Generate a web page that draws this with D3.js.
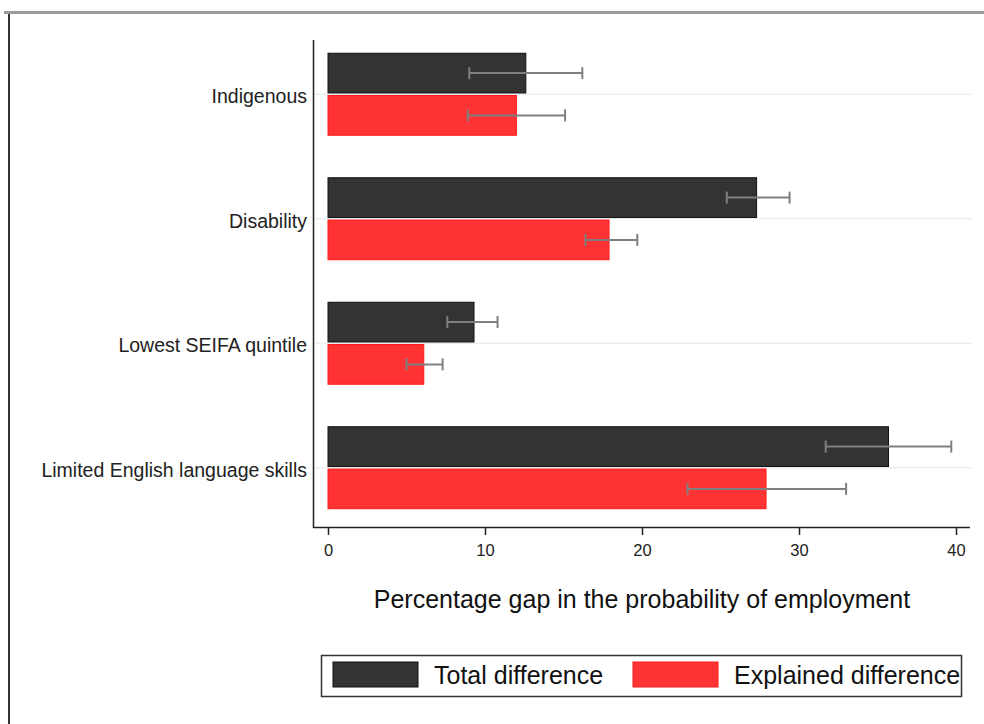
<!DOCTYPE html>
<html>
<head>
<meta charset="utf-8">
<script src="https://cdn.jsdelivr.net/npm/d3@7"></script>
<style>
  html, body { margin: 0; padding: 0; background: #fff; }
  svg { display: block; font-family: "Liberation Sans", Arial, sans-serif; }
</style>
</head>
<body>
<svg id="chart" width="984" height="724"></svg>
<script>
// Employment gap by group: total vs explained difference (percentage points)
const categories = ["Indigenous", "Disability", "Lowest SEIFA quintile", "Limited English language skills"];
const seriesNames = ["Total difference", "Explained difference"];
const totalDiff = [12.6, 27.3, 9.3, 35.7];
const totalLow = [9.0, 25.4, 7.6, 31.7];
const totalHigh = [16.2, 29.4, 10.8, 39.7];
const explainedDiff = [12.0, 17.9, 6.1, 27.9];
const explainedLow = [8.9, 16.4, 5.0, 22.9];
const explainedHigh = [15.1, 19.7, 7.3, 33.0];
const xTicks = [0, 10, 20, 30, 40];
const xTitle = "Percentage gap in the probability of employment";

const fills = ["#333333", "#ff3333"];
const strokes = ["#111111", "#ff1a1a"];

const svg = d3.select("#chart");

// Outer frame lines
svg.append("line").attr("x1", 4).attr("x2", 984).attr("y1", 12.5).attr("y2", 12.5)
  .attr("stroke", "#9a9a9a").attr("stroke-width", 3);
svg.append("line").attr("x1", 9).attr("x2", 9).attr("y1", 14).attr("y2", 724)
  .attr("stroke", "#333").attr("stroke-width", 2);

const x = d3.scaleLinear().domain([0, 40]).range([328, 956]);
const y = d3.scaleBand().domain(categories).range([32, 530]);
const inner = d3.scaleBand().domain(seriesNames).range([-41, 41]).paddingInner(0.06);

// Gridlines at category centres
svg.append("g").selectAll("line").data(categories).join("line")
  .attr("x1", 313).attr("x2", 972)
  .attr("y1", d => y(d) + y.bandwidth() / 2)
  .attr("y2", d => y(d) + y.bandwidth() / 2)
  .attr("stroke", "#dde8ee").attr("stroke-width", 1.2);

const rows = categories.map((c, i) => ({
  cat: c,
  vals: [
    { s: seriesNames[0], v: totalDiff[i], lo: totalLow[i], hi: totalHigh[i], k: 0 },
    { s: seriesNames[1], v: explainedDiff[i], lo: explainedLow[i], hi: explainedHigh[i], k: 1 }
  ]
}));

const groups = svg.append("g").selectAll("g").data(rows).join("g")
  .attr("transform", d => `translate(0,${y(d.cat) + y.bandwidth() / 2})`);

groups.selectAll("rect").data(d => d.vals).join("rect")
  .attr("x", x(0))
  .attr("y", d => inner(d.s))
  .attr("width", d => x(d.v) - x(0))
  .attr("height", inner.bandwidth())
  .attr("fill", d => fills[d.k])
  .attr("stroke", d => strokes[d.k])
  .attr("stroke-width", 1);

// Confidence intervals
const eb = groups.selectAll("g.err").data(d => d.vals).join("g").attr("class", "err")
  .attr("transform", d => `translate(0,${inner(d.s) + inner.bandwidth() / 2})`);
eb.append("line").attr("x1", d => x(d.lo)).attr("x2", d => x(d.hi)).attr("y1", 0).attr("y2", 0)
  .attr("stroke", "#7f7f7f").attr("stroke-width", 2);
eb.append("line").attr("x1", d => x(d.lo)).attr("x2", d => x(d.lo)).attr("y1", -6).attr("y2", 6)
  .attr("stroke", "#7f7f7f").attr("stroke-width", 2);
eb.append("line").attr("x1", d => x(d.hi)).attr("x2", d => x(d.hi)).attr("y1", -6).attr("y2", 6)
  .attr("stroke", "#7f7f7f").attr("stroke-width", 2);

// Category axis
svg.append("line").attr("x1", 313.5).attr("x2", 313.5).attr("y1", 40).attr("y2", 528)
  .attr("stroke", "#222").attr("stroke-width", 1.5);
svg.append("g").selectAll("text").data(categories).join("text")
  .attr("x", 307)
  .attr("y", d => y(d) + y.bandwidth() / 2 + 2)
  .attr("dy", "0.35em")
  .attr("text-anchor", "end")
  .attr("font-size", 19.5)
  .attr("fill", "#222")
  .text(d => d);

// Value axis
const xAxis = svg.append("g").attr("transform", "translate(0,527)")
  .call(d3.axisBottom(x).tickValues(xTicks).tickSize(8).tickPadding(9).tickFormat(d3.format("d")));
xAxis.select(".domain").remove();
xAxis.selectAll(".tick line").attr("stroke", "#222").attr("stroke-width", 1.5);
xAxis.selectAll(".tick text").attr("font-size", 16.5).attr("fill", "#222")
  .attr("font-family", "Liberation Sans, Arial, sans-serif");
svg.append("line").attr("x1", 313).attr("x2", 970).attr("y1", 527.5).attr("y2", 527.5)
  .attr("stroke", "#222").attr("stroke-width", 1.5);

svg.append("text").attr("x", 642).attr("y", 608).attr("text-anchor", "middle")
  .attr("font-size", 25).attr("fill", "#111").text(xTitle);

// Legend
const legend = svg.append("g");
legend.append("rect").attr("x", 321.5).attr("y", 655.5).attr("width", 640).attr("height", 41)
  .attr("fill", "#fff").attr("stroke", "#333").attr("stroke-width", 1.5);
const legX = [333, 633];
seriesNames.forEach((s, i) => {
  legend.append("rect").attr("x", legX[i]).attr("y", 662).attr("width", 85).attr("height", 25)
    .attr("fill", fills[i]).attr("stroke", strokes[i]).attr("stroke-width", 1);
  legend.append("text").attr("x", legX[i] + 101).attr("y", 675).attr("dy", "0.35em")
    .attr("font-size", 25).attr("fill", "#111").text(s);
});
</script>
</body>
</html>
